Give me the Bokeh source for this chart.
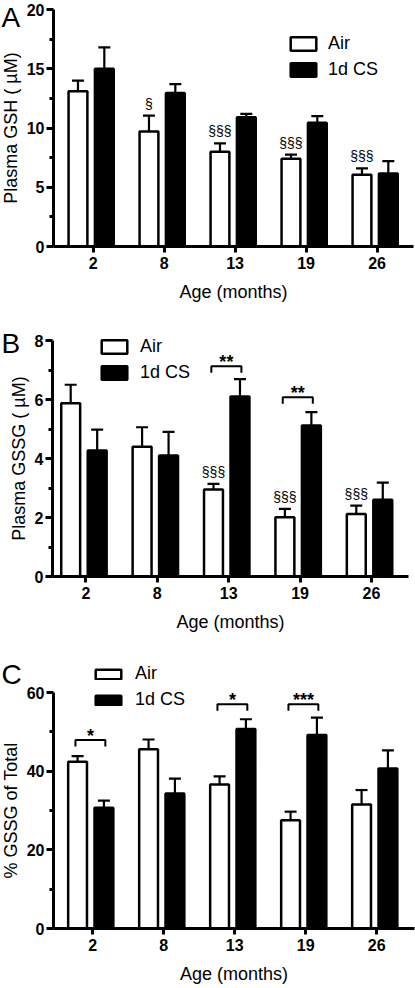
from bokeh.plotting import figure
from bokeh.models import (ColumnDataSource, Whisker, TeeHead, FixedTicker, Legend,
                          LegendItem, Range1d)
from bokeh.layouts import column
from bokeh.embed import file_html
from bokeh.resources import INLINE
from bokeh.core.properties import value

# ---------------- data ----------------
months = ["2", "8", "13", "19", "26"]

gsh_air = [13.1, 9.7, 8.0, 7.4, 6.05]
gsh_air_err = [0.9, 1.35, 0.7, 0.35, 0.55]
gsh_cs = [15.0, 12.95, 10.9, 10.45, 6.15]
gsh_cs_err = [1.8, 0.75, 0.3, 0.55, 1.05]
gsh_marks = ["", "§", "§§§", "§§§", "§§§"]

gssg_air = [5.87, 4.4, 2.95, 2.01, 2.12]
gssg_air_err = [0.63, 0.66, 0.19, 0.28, 0.28]
gssg_cs = [4.27, 4.1, 6.1, 5.12, 2.6]
gssg_cs_err = [0.71, 0.8, 0.59, 0.45, 0.58]
gssg_marks = ["", "", "§§§", "§§§", "§§§"]
gssg_brackets = [(2, 7.13, "**"), (3, 6.08, "**")]

pct_air = [42.4, 45.6, 36.6, 27.5, 31.5]
pct_air_err = [1.4, 2.45, 2.1, 2.2, 3.7]
pct_cs = [30.7, 34.3, 50.7, 49.2, 40.7]
pct_cs_err = [1.8, 3.8, 2.5, 4.4, 4.6]
pct_marks = ["", "", "", "", ""]
pct_brackets = [(0, 47.9, "*"), (2, 57.0, "*"), (3, 57.0, "***")]

FONT = "Liberation Sans"
AIR_OFF = -0.213
CS_OFF = 0.158
BAR_W = 0.265
W = 415


def make_panel(letter, letter_px, ylabel, ymax, yticks, yminor, air, air_err, cs, cs_err,
               marks, brackets, H, geo, legend_xy, legend_gh, legend_standoff):
    axis_px, tick1_px, step_px, right_px, y0_px, ytop_px = geo
    xs = list(range(1, len(months) + 1))
    x0 = 1 - tick1_px / step_px
    x1 = x0 + W / step_px
    k = (y0_px - ytop_px) / ymax
    y_start = -(H - y0_px) / k
    y_end = ymax + ytop_px / k
    yaxis_x = x0 + axis_px / step_px
    xaxis_end = x0 + right_px / step_px

    p = figure(width=W, height=H, x_range=Range1d(x0, x1), y_range=Range1d(y_start, y_end),
               output_backend="svg", toolbar_location=None,
               min_border_left=0, min_border_right=0, min_border_top=0, min_border_bottom=0)
    p.outline_line_color = None
    p.xgrid.visible = False
    p.ygrid.visible = False

    air_x = [x + AIR_OFF for x in xs]
    cs_x = [x + CS_OFF for x in xs]
    src_air = ColumnDataSource(dict(x=air_x, top=air, up=[a + e for a, e in zip(air, air_err)], mark=marks))
    src_cs = ColumnDataSource(dict(x=cs_x, top=cs, up=[a + e for a, e in zip(cs, cs_err)]))

    r_air = p.vbar(x="x", top="top", width=BAR_W, source=src_air, fill_color="white",
                   line_color="black", line_width=2.5)
    r_cs = p.vbar(x="x", top="top", width=BAR_W, source=src_cs, fill_color="black",
                  line_color="black", line_width=2.5)
    for s in (src_air, src_cs):
        p.add_layout(Whisker(base="x", lower="top", upper="up", source=s, dimension="height",
                             line_color="black", line_width=2.2, level="overlay",
                             upper_head=TeeHead(size=12, line_width=2.2, line_color="black"),
                             lower_head=None))

    p.text(x="x", y="up", text="mark", source=src_air, text_font=value(FONT),
           text_font_size="14px", text_align="center", text_baseline="middle",
           y_offset=-12, text_color="black")

    drop = 6.5 / k
    if brackets:
        bx, by, bt = [], [], []
        xs_l, ys_l = [], []
        for i, lev, txt in brackets:
            bl = xs[i] + AIR_OFF - 0.03
            br = xs[i] + CS_OFF + 0.02
            xs_l.append([bl, bl, br, br])
            ys_l.append([lev - drop, lev, lev, lev - drop])
            bx.append((bl + br) / 2)
            by.append(lev)
            bt.append(txt)
        p.multi_line(xs=xs_l, ys=ys_l, line_color="black", line_width=2)
        p.text(x=bx, y=by, text=bt, text_font=value(FONT), text_font_size="18px",
               text_font_style="bold", text_align="center", text_baseline="middle",
               y_offset=-4, text_color="black")

    # panel letter (position given in figure pixels, converted through the scales)
    lx = x0 + letter_px[0] / step_px
    ly = (y0_px - letter_px[1]) / k
    p.text(x=[lx], y=[ly], text=[letter], text_font=value(FONT), text_font_size="28px",
           text_align="left", text_baseline="middle", text_color="black")

    # axes
    xa = p.xaxis[0]
    xa.fixed_location = 0
    xa.bounds = (yaxis_x, xaxis_end)
    xa.ticker = FixedTicker(ticks=xs)
    xa.major_label_overrides = {x: m for x, m in zip(xs, months)}
    xa.major_tick_in = 0
    xa.major_tick_out = 6
    xa.minor_tick_in = 0
    xa.minor_tick_out = 0
    xa.axis_line_width = 3
    xa.major_tick_line_width = 3
    xa.major_label_text_font = FONT
    xa.major_label_text_font_size = "16px"
    xa.major_label_text_font_style = "bold"
    xa.major_label_text_color = "black"
    xa.major_label_standoff = 4
    xa.axis_label = "Age (months)"
    xa.axis_label_text_font = FONT
    xa.axis_label_text_font_size = "18px"
    xa.axis_label_text_font_style = "normal"
    xa.axis_label_text_color = "black"
    xa.axis_label_standoff = 10

    ya = p.yaxis[0]
    ya.fixed_location = yaxis_x
    ya.bounds = (0, ymax)
    ya.ticker = FixedTicker(ticks=yticks, minor_ticks=yminor)
    ya.major_tick_in = 0
    ya.major_tick_out = 7
    ya.minor_tick_in = 0
    ya.minor_tick_out = 4
    ya.axis_line_width = 3
    ya.major_tick_line_width = 3
    ya.minor_tick_line_width = 3
    ya.major_label_text_font = FONT
    ya.major_label_text_font_size = "16px"
    ya.major_label_text_font_style = "bold"
    ya.major_label_text_color = "black"
    ya.major_label_standoff = 2
    ya.axis_label = ylabel
    ya.axis_label_text_font = FONT
    ya.axis_label_text_font_size = "18px"
    ya.axis_label_text_font_style = "normal"
    ya.axis_label_text_color = "black"
    ya.axis_label_standoff = 3

    legend = Legend(items=[LegendItem(label="Air", renderers=[r_air]),
                           LegendItem(label="1d CS", renderers=[r_cs])],
                    location=legend_xy, glyph_width=32, glyph_height=legend_gh,
                    label_standoff=legend_standoff, spacing=5, padding=0, margin=0,
                    border_line_color=None, background_fill_alpha=0,
                    label_text_font=FONT, label_text_font_size="18px",
                    label_text_color="black", label_height=20)
    p.add_layout(legend)
    return p


pA = make_panel("A", (1, 16.5), "Plasma GSH ( \u00b5M)", 20, [0, 5, 10, 15, 20],
                [2.5, 7.5, 12.5, 17.5], gsh_air, gsh_air_err, gsh_cs, gsh_cs_err, gsh_marks, [],
                H=320, geo=(53, 92.6, 71.0, 413, 246, 9), legend_xy=(287, 240),
                legend_gh=17, legend_standoff=9)
pB = make_panel("B", (1, 23), "Plasma GSSG ( \u00b5M)", 8, [0, 2, 4, 6, 8], [1, 3, 5, 7],
                gssg_air, gssg_air_err, gssg_cs, gssg_cs_err, gssg_marks, gssg_brackets,
                H=330, geo=(52, 85.4, 71.4, 408, 256, 20), legend_xy=(98, 267),
                legend_gh=17, legend_standoff=10)
pC = make_panel("C", (1, 24), "% GSSG of Total", 60, [0, 20, 40, 60], [10, 30, 50],
                pct_air, pct_air_err, pct_cs, pct_cs_err, pct_marks, pct_brackets,
                H=338, geo=(53, 92.2, 71.0, 414, 278, 42), legend_xy=(92, 278),
                legend_gh=12, legend_standoff=11)

layout = column(pA, pB, pC, spacing=0)
open("out.html", "w").write(file_html(layout, INLINE))
